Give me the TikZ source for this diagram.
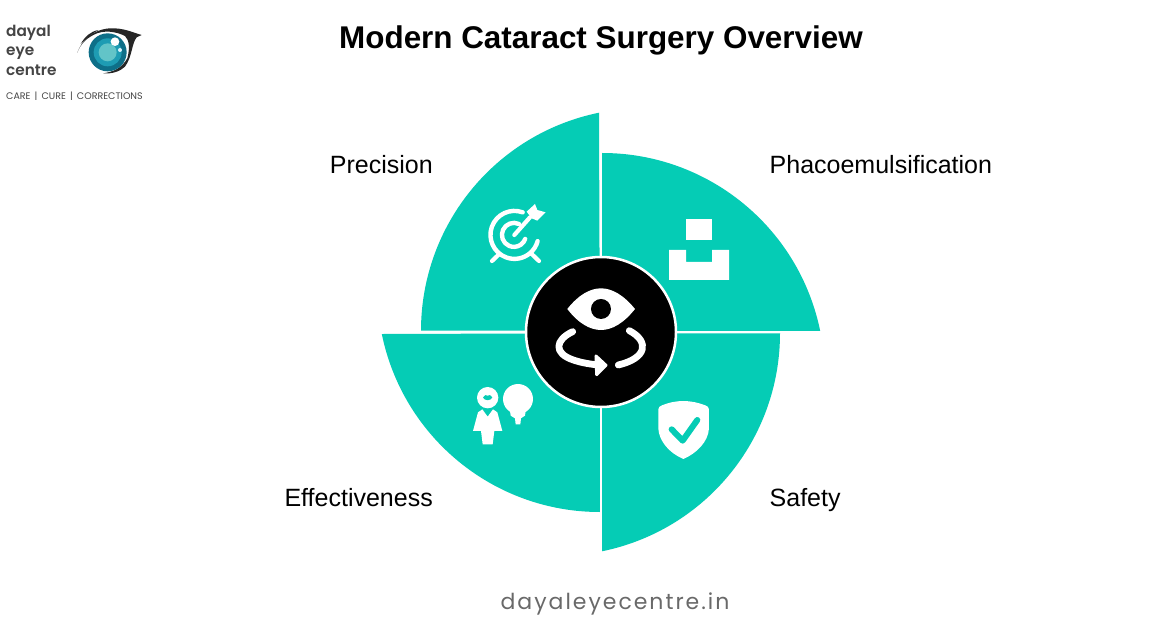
\documentclass[tikz,border=0pt]{standalone}
\usepackage{fontspec}
\setmainfont{Liberation Sans}
\newfontfamily\logofont[BoldFont=Poppins SemiBold]{Poppins}
\newfontfamily\footfont[LetterSpace=9]{Poppins}
\definecolor{teal}{HTML}{05CCB5}
\definecolor{logogray}{HTML}{444444}
\definecolor{irisa}{HTML}{0E6F88}
\definecolor{irisb}{HTML}{1E9CB3}
\definecolor{irisc}{HTML}{62C4C8}
\tikzset{
  x=1pt,y=1pt,
  petal/.style={fill=teal,draw=none},
  icon/.style={fill=white,draw=none},
  iconline/.style={draw=white,line cap=round,line join=round},
  zoomed/.style={shift={#1},x=0.3333pt,y=-0.3333pt},
  label/.style={font=\fontsize{25}{29}\selectfont,inner sep=0pt,text=black},
  logotext/.style={font=\logofont\fontsize{15.3}{17}\selectfont\bfseries,inner sep=0pt,anchor=base west,text=logogray}
}
\begin{document}
\begin{tikzpicture}
\useasboundingbox (0,-628) rectangle (1170,0);
\fill[white] (0,-628) rectangle (1170,0);
% petals
\path[petal] (602.2,-330.7) -- (602.2,-153) arc[start angle=90,end angle=11.54,radius=222.5] -- cycle;
\path[petal] (602.2,-333.3) -- (780,-333.3) arc[start angle=0,end angle=-78.46,radius=222.5] -- cycle;
\path[petal] (599.8,-333.3) -- (599.8,-512) arc[start angle=-90,end angle=-168.46,radius=222.5] -- cycle;
\path[petal] (599.8,-330.7) -- (421,-330.7) arc[start angle=180,end angle=101.54,radius=222.5] -- cycle;
% hub
\node[circle,fill=black,draw=white,line width=2.5pt,minimum size=150pt,inner sep=0pt] (hub) at (601,-332) {};
% hub icon
\begin{scope}[zoomed={(480,-200)}]
\path[icon] (262,327) .. controls (295,285) and (330,265) .. (363,265) .. controls (396,265) and (431,285) .. (465,327) .. controls (431,370) and (396,390) .. (363,390) .. controls (330,390) and (295,370) .. (262,327) -- cycle;
\fill[black] (363,327) circle[radius=30];
\draw[iconline,line width=6.8pt] (278,395) .. controls (225,420) and (220,460) .. (280,480) .. controls (300,487) and (325,492) .. (355,495);
\path[icon,draw=white,line width=3pt,line join=round] (348,468) -- (378,496) -- (350,524) -- cycle;
\draw[iconline,line width=6.8pt] (448,392) .. controls (510,425) and (500,475) .. (415,495);
\end{scope}
% target icon
\begin{scope}[zoomed={(480,-200)}]
\draw[iconline,line width=4.4pt] (128,37) arc[start angle=-70,end angle=-345,radius=72];
\draw[iconline,line width=4.4pt] (117,72) arc[start angle=-65,end angle=-340,radius=36];
\draw[iconline,line width=4.2pt] (103,105) -- (150,52);
\path[icon] (140,35) -- (165,12) -- (172,30) -- (197,37) -- (172,62) -- (155,55) -- cycle;
\draw[iconline,line width=4.2pt] (36,183) -- (58,162);
\draw[iconline,line width=4.2pt] (177,183) -- (153,160);
\end{scope}
% box icon
\path[icon] (686,-219) rectangle (712,-240);
\path[icon] (669,-250) -- (686,-250) -- (686,-262) -- (712,-262) -- (712,-250) -- (729,-250) -- (729,-280) -- (669,-280) -- cycle;
% effectiveness icon
\begin{scope}[zoomed={(465,-375)}]
\fill[white] (68,68) circle[radius=32];
\fill[teal] (54,68) .. controls (60,58) and (64,60) .. (68,62) .. controls (72,60) and (76,58) .. (82,68) .. controls (76,78) and (60,78) .. (54,68) -- cycle;
\path[icon] (52,103) -- (68,125) -- (84,103) -- (97,112) -- (112,168) -- (88,168) -- (83,208) -- (53,208) -- (48,168) -- (24,168) -- (39,112) -- cycle;
\fill[white] (159,72) circle[radius=45];
\path[icon] (135,108) -- (182,108) -- (180,122) -- (168,130) -- (166,148) -- (152,148) -- (150,130) -- (137,122) -- cycle;
\end{scope}
% shield icon
\begin{scope}[zoomed={(450,-370)}]
\path[icon] (625,118) .. controls (625,112) and (630,108) .. (636,106) .. controls (655,98) and (678,93) .. (700,93) .. controls (722,93) and (746,98) .. (766,106) .. controls (772,108) and (777,112) .. (777,118) -- (777,175) .. controls (775,215) and (740,250) .. (700,267) .. controls (660,250) and (627,215) .. (625,175) -- cycle;
\draw[draw=teal,line width=6pt,line cap=round,line join=round] (665,178) -- (698,212) -- (742,150);
\end{scope}
% labels
\node[label,anchor=base east] (precision) at (433,-174) {Precision};
\node[label,anchor=base west] (phaco) at (769.5,-174) {Phacoemulsification};
\node[label,anchor=base east] (effect) at (433,-506) {Effectiveness};
\node[label,anchor=base west] (safety) at (769.5,-506) {Safety};
\node[inner sep=0pt,anchor=base] (title) at (601,-48.5) {\fontsize{31.4}{36}\selectfont\bfseries Modern Cataract Surgery Overview};
\node[inner sep=0pt,anchor=base] (foot) at (615,-609) {\footfont\fontsize{22}{27}\selectfont\color{logogray!80}dayaleyecentre.in};
% logo
\node[logotext] (l1) at (6,-37) {dayal};
\node[logotext] (l2) at (6,-56) {eye};
\node[logotext] (l3) at (6,-75.5) {centre};
\node[inner sep=0pt,anchor=base west,text=logogray] (l4) at (6,-99.5) {\logofont\fontsize{9.5}{11}\selectfont CARE \,|\, CURE \,|\, CORRECTIONS};
\begin{scope}[zoomed={(70,-20)}]
\fill[black!85] (22,98) .. controls (35,60) and (70,28) .. (120,25) .. controls (160,23) and (190,38) .. (215,45) -- (200,52) .. controls (185,70) and (187,110) .. (165,140) .. controls (150,155) and (125,162) .. (100,160) .. controls (130,155) and (155,145) .. (172,115) .. controls (180,85) and (178,60) .. (165,48) .. controls (140,35) and (100,28) .. (70,45) .. controls (45,58) and (30,75) .. (22,98) -- cycle;
\fill[black!85] (32,72) .. controls (45,50) and (60,35) .. (85,30) .. controls (65,42) and (50,55) .. (32,72) -- cycle;
\fill[irisa] (113,97) circle[radius=57];
\fill[irisb] (113,97) circle[radius=42];
\fill[irisc] (113,97) circle[radius=27];
\fill[white] (135,65) circle[radius=13];
\fill[white!85!cyan] (150,90) circle[radius=6];
\end{scope}
\end{tikzpicture}
\end{document}
